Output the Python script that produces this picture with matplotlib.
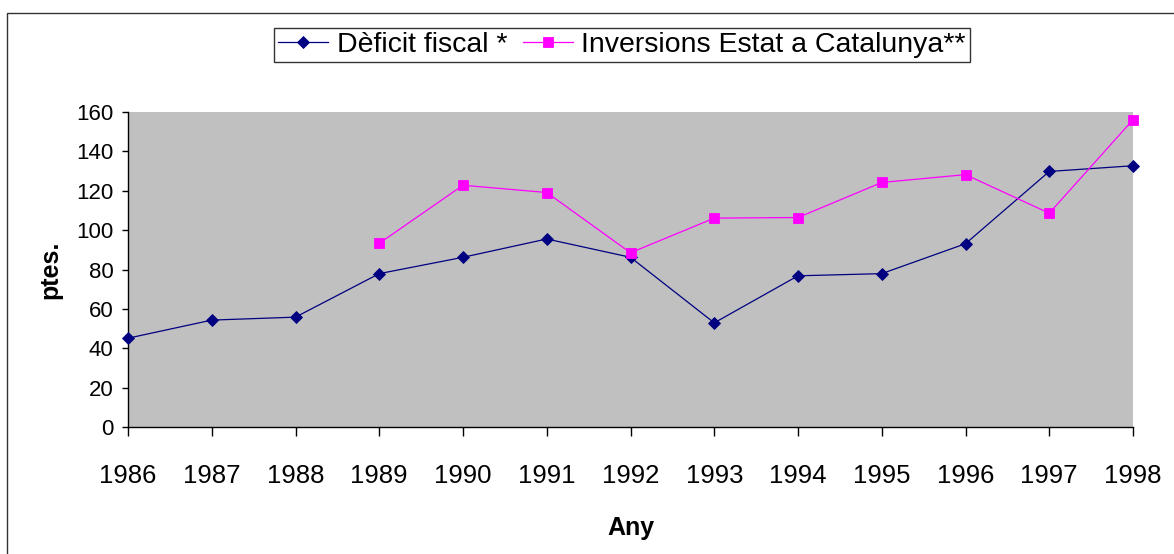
import matplotlib.pyplot as plt
from matplotlib.patches import Rectangle

plt.rcParams['font.family'] = ['Liberation Sans', 'DejaVu Sans']

# Data
years = [1986, 1987, 1988, 1989, 1990, 1991, 1992,
         1993, 1994, 1995, 1996, 1997, 1998]
deficit = [45.1, 54.3, 55.8, 77.9, 86.2, 95.5, 86.2,
           52.9, 76.8, 77.9, 93.1, 129.8, 132.7]
inv_years = [1989, 1990, 1991, 1992, 1993, 1994, 1995, 1996, 1997, 1998]
inversions = [93.3, 122.8, 119.1, 88.5, 106.1, 106.4, 124.2, 128.2, 108.6, 156.1]
yticks = [0, 20, 40, 60, 80, 100, 120, 140, 160]

fig = plt.figure(figsize=(11.74, 5.54), dpi=100)
ax = fig.add_axes([128 / 1174, 1 - 427 / 554, (1133 - 128) / 1174, (427 - 112) / 554])
ax.set_facecolor('#c0c0c0')

# Outer chart border (only top and left visible)
fig.patches.append(Rectangle((7 / 1174, -0.2), 2, 1.2 - 13 / 554,
                             transform=fig.transFigure, fill=False,
                             edgecolor='#333333', linewidth=1.0))

ax.plot(years, deficit, color='#000080', linewidth=0.9, marker='D',
        markersize=6, markeredgewidth=0.6, label='Dèficit fiscal *',
        clip_on=False, zorder=3)
ax.plot(inv_years, inversions, color='#ff00ff', linewidth=0.9, marker='s',
        markersize=6.5, markeredgewidth=0.6, label='Inversions Estat a Catalunya**',
        clip_on=False, zorder=3)

ax.set_xlim(1986, 1998)
ax.set_ylim(0, 160)
ax.set_xticks(years)
ax.set_yticks(yticks)

for s in ['top', 'right']:
    ax.spines[s].set_visible(False)
for s in ['left', 'bottom']:
    ax.spines[s].set_linewidth(1.0)

ax.tick_params(axis='x', direction='out', length=6.5, width=1.0,
               labelsize=18.5, pad=20)
ax.tick_params(axis='y', direction='out', length=4.3, width=1.0,
               labelsize=16, pad=6)

ax.set_xlabel('Any', fontsize=18, fontweight='bold', labelpad=20)
ax.set_ylabel('ptes.', fontsize=18, fontweight='bold', labelpad=10)

leg = fig.legend(loc='center', bbox_to_anchor=(622 / 1174, 1 - 45 / 554),
                 ncol=2, fontsize=20.5, frameon=True, fancybox=False,
                 edgecolor='black', handlelength=1.75, handletextpad=0.3,
                 columnspacing=0.55, borderpad=0.15, borderaxespad=0)
leg.get_frame().set_linewidth(1.0)

plt.savefig('out.png', dpi=100)
